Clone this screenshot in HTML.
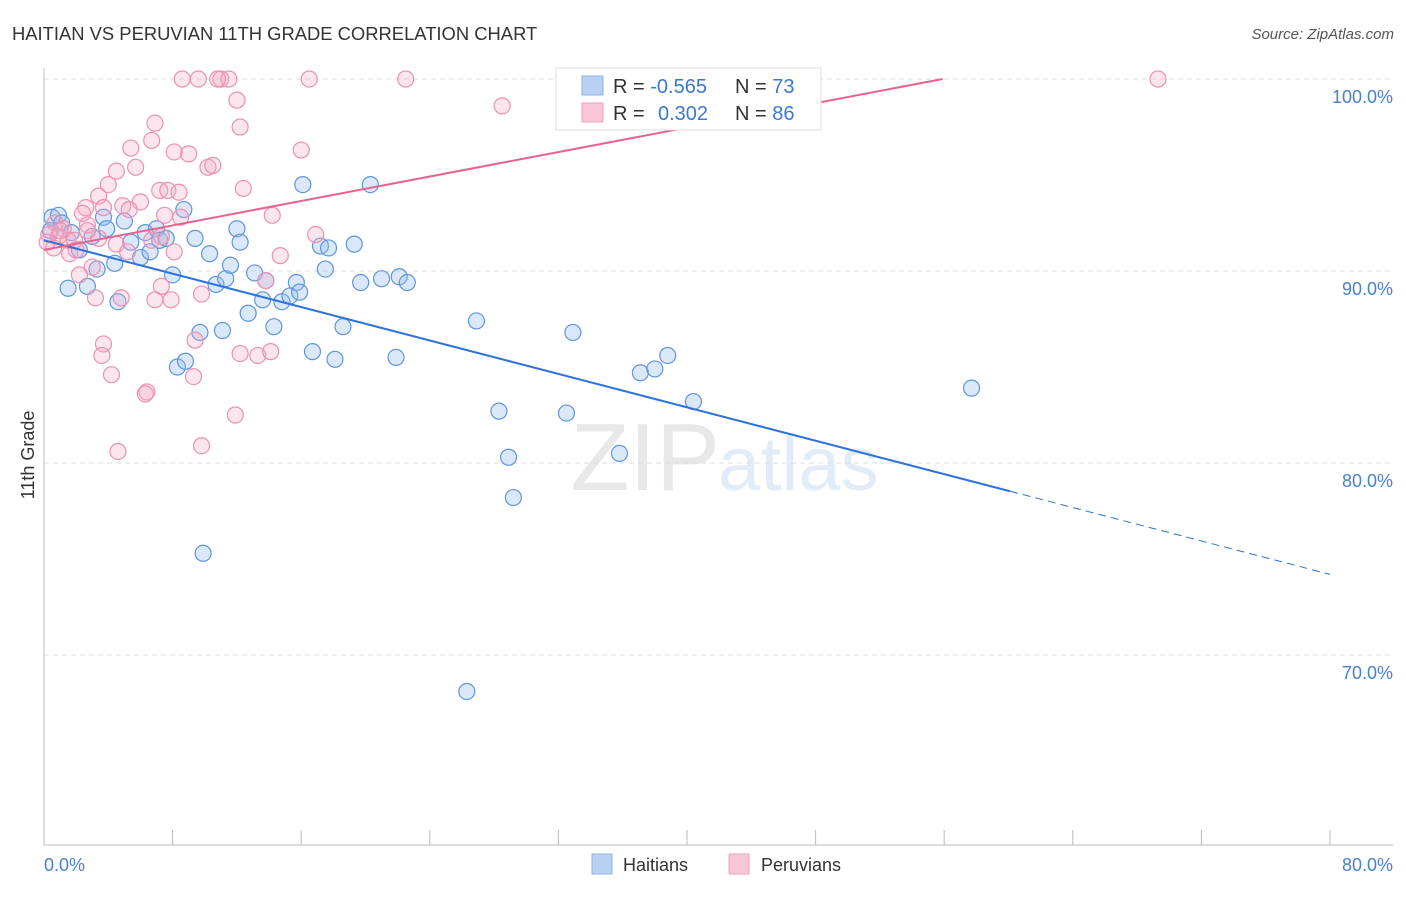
<!DOCTYPE html>
<html><head><meta charset="utf-8"><style>
body{margin:0;background:#fff;font-family:"Liberation Sans",sans-serif}
svg text{font-family:"Liberation Sans",sans-serif}
</style></head><body>
<svg id="chart" width="1406" height="892" xmlns="http://www.w3.org/2000/svg">
<text x="12" y="40" font-size="18.4" fill="#333">HAITIAN VS PERUVIAN 11TH GRADE CORRELATION CHART</text>
<text x="1394" y="39" font-size="15" fill="#555" font-style="italic" text-anchor="end">Source: ZipAtlas.com</text>
<text x="720" y="490" font-size="96" fill="#e8e8e8" text-anchor="end" font-family="Liberation Serif">ZIP</text>
<text x="718" y="490" font-size="76" fill="#e2ecf8">atlas</text>
<g id="grid"></g>
<g id="axes"></g>
<g id="marks"></g>
<text transform="translate(34,455) rotate(-90)" font-size="18" fill="#333" text-anchor="middle">11th Grade</text>
<text x="44" y="871" font-size="18" fill="#4a7fd0">0.0%</text>
<text x="1393" y="871" font-size="18" fill="#4a7fd0" text-anchor="end">80.0%</text>
<g>
<rect x="556" y="68" width="265" height="62" fill="#fff" stroke="#ddd"/>
<rect x="582" y="76" width="21" height="19" fill="#b8d1f3" stroke="#8fb3e6"/>
<rect x="582" y="103" width="21" height="19" fill="#f9c6d5" stroke="#eda3bb"/>
<text x="613" y="93" font-size="20" fill="#333">R = <tspan fill="#3b78d4">-0.565</tspan><tspan x="735">N = </tspan><tspan fill="#3b78d4">73</tspan></text>
<text x="613" y="120" font-size="20" fill="#333">R = <tspan x="658" fill="#3b78d4">0.302</tspan><tspan x="735">N = </tspan><tspan fill="#3b78d4">86</tspan></text>
</g>
<g>
<rect x="592" y="854" width="20" height="20" fill="#b8d1f3" stroke="#8fb3e6"/>
<text x="623" y="871" font-size="18" fill="#333">Haitians</text>
<rect x="729" y="854" width="20" height="20" fill="#f9c6d5" stroke="#eda3bb"/>
<text x="761" y="871" font-size="18" fill="#333">Peruvians</text>
</g>
</svg>
<script>
const yTicks=[100,90,80,70];
const yTickLabels=["100.0%","90.0%","80.0%","70.0%"];
const haitiX=[0.5,0.9,1.1,0.4,1.5,1.7,2.2,2.7,3.0,3.3,3.7,3.9,4.4,4.6,5.0,5.4,6.0,6.3,6.6,7.0,7.2,7.6,8.0,8.3,8.8,8.7,9.4,9.7,9.9,10.3,10.7,11.1,11.3,11.6,12.0,12.2,12.7,13.1,13.6,13.8,14.3,14.8,15.3,15.7,15.9,16.1,16.7,17.2,17.5,17.7,18.1,18.6,19.3,19.7,20.3,21.0,21.9,22.1,22.6,26.3,26.9,28.3,28.9,29.2,32.5,32.9,35.8,37.1,38.0,38.8,40.4,57.7];
const haitiY=[92.8,92.9,92.5,92.1,89.1,92.0,91.1,89.2,91.8,90.1,92.8,92.2,90.4,88.4,92.6,91.5,90.7,92.0,91.0,92.2,91.6,91.7,89.8,85.0,85.3,93.2,91.7,86.8,75.3,90.9,89.3,86.9,89.6,90.3,92.2,91.5,87.8,89.9,88.5,89.5,87.1,88.4,88.7,89.4,88.9,94.5,85.8,91.3,90.1,91.2,85.4,87.1,91.4,89.4,94.5,89.6,85.5,89.7,89.4,68.1,87.4,82.7,80.3,78.2,82.6,86.8,80.5,84.7,84.9,85.6,83.2,83.9];
const peruX=[8.6,9.6,11.0,11.5,10.8,16.5,22.5,69.3,12.0,28.5,12.2,6.9,5.4,6.7,8.1,9.0,16.0,10.2,10.5,4.5,5.7,4.0,7.2,7.7,8.4,12.4,3.4,6.0,2.6,2.4,3.7,4.9,5.3,7.5,8.5,14.2,0.7,2.7,1.2,0.3,0.9,1.5,1.9,3.4,4.5,6.7,7.3,16.9,0.6,1.6,5.2,8.1,14.7,3.0,2.2,13.8,7.3,9.8,3.2,4.8,6.9,7.9,9.4,3.7,3.6,12.2,13.3,14.1,4.2,9.3,6.4,6.3,11.9,4.6,9.8,0.2,1.0,2.0,2.7];
const peruY=[100,100,100,100,100,100,100,100,98.9,98.6,97.5,97.7,96.4,96.8,96.2,96.1,96.3,95.4,95.5,95.2,95.4,94.5,94.2,94.2,94.1,94.3,93.9,93.6,93.3,93.0,93.3,93.4,93.2,92.9,92.8,92.9,92.5,92.4,92.2,91.9,91.8,91.6,91.6,91.7,91.4,91.6,91.8,91.9,91.2,90.9,91.0,91.0,90.8,90.2,89.8,89.5,89.2,88.8,88.6,88.6,88.5,88.5,86.4,86.2,85.6,85.7,85.6,85.8,84.6,84.5,83.7,83.6,82.5,80.6,80.9,91.5,92.1,91.1,92.1];
const haitiTrend=[91.6,74.2];
const peruTrend=[91.1,100];
const peruTrendEndX=55.9;
const NS="http://www.w3.org/2000/svg";
const X=v=>44+v*(1286/80);
const Y=v=>79+(100-v)*19.2;
function mk(tag,attrs,parent){const e=document.createElementNS(NS,tag);for(const k in attrs)e.setAttribute(k,attrs[k]);parent.appendChild(e);return e;}
const grid=document.getElementById('grid'),axes=document.getElementById('axes'),marks=document.getElementById('marks');
yTicks.forEach((t,i)=>{
 const l=mk('line',{x1:44,x2:1393,y1:Y(t),y2:Y(t),stroke:'#ddd','stroke-dasharray':'5,4'},grid);
 
 
 const tx=mk('text',{x:1393,y:Y(t)+24,'font-size':18,fill:'#4a7fd0','text-anchor':'end'},grid);
 tx.textContent=yTickLabels[i];
 
 
});
const ya=mk('line',{x1:44,x2:44,y1:68,y2:845,stroke:'#bbb'},axes);


const xa=mk('line',{x1:44,x2:1393,y1:845,y2:845,stroke:'#bbb'},axes);


for(let i=0;i<=10;i++){const t=mk('line',{x1:X(i*8),x2:X(i*8),y1:830,y2:845,stroke:'#bbb'},axes);
 
 }
haitiX.forEach((x,i)=>{const c=mk('circle',{cx:X(x),cy:Y(haitiY[i]),r:8,fill:'rgba(150,188,240,0.35)',stroke:'#5f95dc','stroke-width':1.2},marks);
 
 });
peruX.forEach((x,i)=>{const c=mk('circle',{cx:X(x),cy:Y(peruY[i]),r:8,fill:'rgba(245,170,196,0.3)',stroke:'#eb92b0','stroke-width':1.2},marks);
 
 });
const hAt=x=>haitiTrend[0]+(haitiTrend[1]-haitiTrend[0])*x/80;
const splitX=60.1;
const h1=mk('line',{x1:X(0),y1:Y(hAt(0)),x2:X(splitX),y2:Y(hAt(splitX)),stroke:'#2f73d8','stroke-width':2},marks);


const h2=mk('line',{x1:X(splitX),y1:Y(hAt(splitX)),x2:X(80),y2:Y(hAt(80)),stroke:'#2f73d8','stroke-width':1,'stroke-dasharray':'8,5'},marks);


const p1=mk('line',{x1:X(0),y1:Y(peruTrend[0]),x2:X(peruTrendEndX),y2:Y(peruTrend[1]),stroke:'#e8648f','stroke-width':2},marks);


</script>
</body></html>
